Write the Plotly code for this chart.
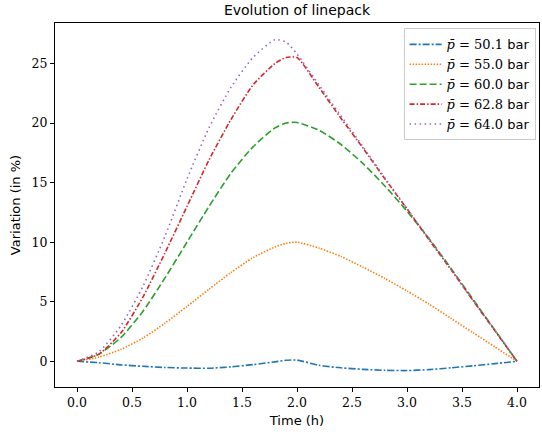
import plotly.graph_objects as go

time_h = [0.0, 0.2, 0.4, 0.6, 0.8, 1.0, 1.2, 1.4, 1.6, 1.8, 1.9, 2.0,
          2.2, 2.4, 2.6, 2.8, 3.0, 3.2, 3.4, 3.6, 3.8, 4.0]

var_50_1 = [0.0, -0.12, -0.30, -0.42, -0.52, -0.57, -0.58, -0.47, -0.28, -0.05, 0.08, 0.10,
            -0.34, -0.55, -0.68, -0.76, -0.78, -0.70, -0.55, -0.38, -0.20, 0.0]
var_55_0 = [0.0, 0.35, 1.0, 1.95, 3.2, 4.6, 6.05, 7.45, 8.7, 9.6, 9.9, 10.0,
            9.5, 8.8, 7.9, 6.95, 5.9, 4.8, 3.6, 2.4, 1.2, 0.0]
var_60_0 = [0.0, 0.6, 2.0, 4.2, 7.0, 10.0, 13.0, 15.8, 18.0, 19.6, 20.0, 20.05,
            19.4, 18.2, 16.6, 14.7, 12.6, 10.3, 7.8, 5.2, 2.6, 0.0]
var_62_8 = [0.0, 0.6, 2.4, 5.4, 9.1, 13.0, 16.9, 20.3, 23.2, 25.0, 25.5, 25.5,
            23.0, 20.4, 17.9, 15.3, 12.8, 10.2, 7.7, 5.1, 2.55, 0.0]
var_64_0 = [0.0, 0.8, 3.0, 6.3, 10.5, 15.3, 19.6, 23.0, 25.5, 27.0, 26.8, 25.8,
            23.2, 20.6, 18.0, 15.4, 12.8, 10.3, 7.7, 5.1, 2.6, 0.0]

pressures = ["50.1", "55.0", "60.0", "62.8", "64.0"]
series = [var_50_1, var_55_0, var_60_0, var_62_8, var_64_0]
colors = ["#1f77b4", "#ff7f0e", "#2ca02c", "#d62728", "#9467bd"]
dashes = ["7px,2px,2px,2px", "1.5px,1.5px", "7px,3px", "5px,2px,1.5px,2px", "1.5px,3.5px"]

x_ticks = [0.0, 0.5, 1.0, 1.5, 2.0, 2.5, 3.0, 3.5, 4.0]
y_ticks = [0, 5, 10, 15, 20, 25]

fig = go.Figure()
for p, ys, c, d in zip(pressures, series, colors, dashes):
    name = ("<span style=\"font-family:DejaVu Serif\"><i>p\u0304</i> = " + p +
            "</span> bar")
    fig.add_trace(go.Scatter(x=time_h, y=ys, mode="lines", name=name,
                             line=dict(color=c, width=1.6, dash=d,
                                       shape="spline", smoothing=0.6)))

fig.update_layout(
    width=542, height=436,
    margin=dict(l=55, r=3, t=23, b=49),
    paper_bgcolor="white", plot_bgcolor="white",
    font=dict(family="DejaVu Sans", size=12, color="black"),
    title=dict(text="Evolution of linepack", x=0.5, xref="paper", y=0.977,
               yanchor="middle", font=dict(size=14)),
    showlegend=True,
    legend=dict(x=0.993, y=0.985, xanchor="right", yanchor="top",
                bgcolor="white", bordercolor="#cccccc", borderwidth=1,
                font=dict(size=13), tracegroupgap=0, itemwidth=32),
)
fig.update_xaxes(range=[-0.2, 4.2], tickvals=x_ticks,
                 ticktext=["%.1f" % v for v in x_ticks],
                 showgrid=False, zeroline=False, showline=True, linecolor="black",
                 linewidth=1, mirror=True, ticks="outside", ticklen=4,
                 tickcolor="black",
                 tickfont=dict(family="DejaVu Serif", size=12.5),
                 title=dict(text="Time (h)", font=dict(size=13), standoff=6))
fig.update_yaxes(range=[-2.16, 28.4], tickvals=y_ticks,
                 showgrid=False, zeroline=False, showline=True, linecolor="black",
                 linewidth=1, mirror=True, ticks="outside", ticklen=4,
                 tickcolor="black",
                 tickfont=dict(family="DejaVu Serif", size=12.5),
                 title=dict(text="Variation (in %)", font=dict(size=13), standoff=8))

fig.write_html("out.html", config={"displayModeBar": False},
               post_script="document.body.style.margin='0';document.body.style.overflow='hidden';")
